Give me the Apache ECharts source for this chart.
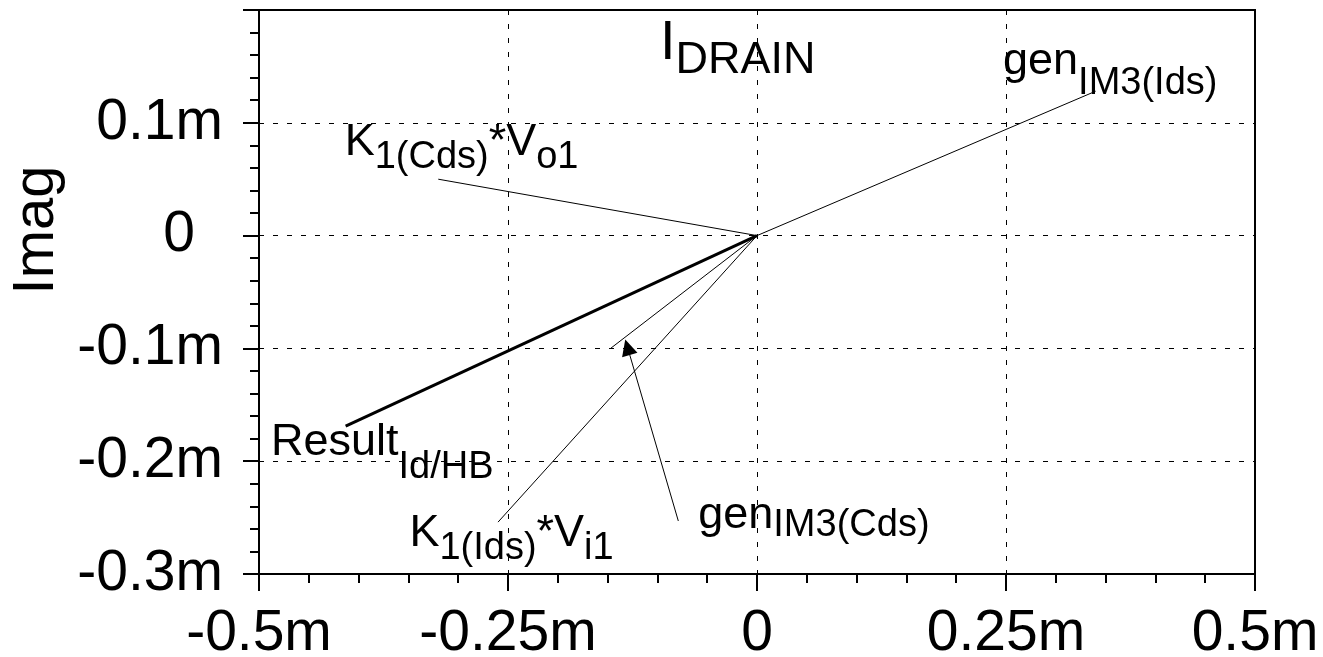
<!DOCTYPE html>
<html>
<head>
<meta charset="utf-8">
<script src="https://cdn.jsdelivr.net/npm/echarts@6/dist/echarts.min.js"></script>
<style>
html, body { margin: 0; padding: 0; background: #fff; }
#chart { width: 1323px; height: 657px; }
</style>
</head>
<body>
<div id="chart"></div>
<script>
// phasor end points (all start at the origin), values in m (milli) units
const vectorNames = ['genIM3Ids', 'K1CdsVo1', 'Result', 'K1IdsVi1', 'genIM3Cds'];
const vectorRe = [0.340, -0.320, -0.413, -0.260, -0.147];
const vectorIm = [0.128, 0.050, -0.169, -0.254, -0.100];
const vectorWidth = [1, 1, 3, 1, 1];

// arrow pointing at the gen IM3(Cds) phasor
const arrowFrom = [-0.079, -0.253];
const arrowTo = [-0.130, -0.099];

// annotation texts and their top-left anchors (data units)
const labelTexts = [
	'{m|gen}{s2|IM3(Ids)}',
	'{m|K}{s1|1(Cds)}{m|*V}{s1|o1}',
	'{m|Result}{s3|Id/HB}',
	'{m|K}{s4|1(Ids)}{m|*V}{s4|i1}',
	'{m|gen}{s5|IM3(Cds)}'
];
const labelRe = [0.247, -0.414, -0.488, -0.349, -0.059];
const labelIm = [0.174, 0.102, -0.164, -0.244, -0.228];

const X_MIN = -0.5, X_MAX = 0.5, X_STEP = 0.25;
const Y_MIN = -0.3, Y_MAX = 0.2, Y_STEP = 0.1;

const FONT = 'Liberation Sans, Arial, sans-serif';
const BLACK = '#000';

function fmtM(v) {
	v = parseFloat(v.toFixed(3));
	return v === 0 ? '0' : v + 'm';
}

function sub(pad) {
	return { fontSize: 38, lineHeight: 38, fontFamily: FONT, color: BLACK, verticalAlign: 'top', padding: [pad, 0, 0, 0] };
}

const MAIN = { fontSize: 45, lineHeight: 45, fontFamily: FONT, color: BLACK, verticalAlign: 'top' };

const chart = echarts.init(document.getElementById('chart'));

const vectorSeries = vectorNames.map((name, i) => ({
	name: name,
	type: 'line',
	data: [[0, 0], [vectorRe[i], vectorIm[i]]],
	showSymbol: false,
	symbol: 'none',
	lineStyle: { color: BLACK, width: vectorWidth[i] },
	z: 3
}));

chart.setOption({
	animation: false,
	backgroundColor: '#fff',
	title: {
		text: '{a|I}{b|DRAIN}',
		left: 660, top: 16, padding: 0,
		textStyle: {
			fontWeight: 'normal',
			rich: {
				a: { fontSize: 56, lineHeight: 56, fontFamily: FONT, fontWeight: 'normal', color: BLACK, verticalAlign: 'top' },
				b: { fontSize: 45, lineHeight: 45, fontFamily: FONT, fontWeight: 'normal', color: BLACK, verticalAlign: 'top', padding: [22, 0, 0, 0] }
			}
		}
	},
	grid: {
		left: 259, right: 68, top: 10, bottom: 83,
		outerBoundsMode: 'none',
		show: true, borderColor: BLACK, borderWidth: 2
	},
	xAxis: {
		type: 'value', min: X_MIN, max: X_MAX, interval: X_STEP,
		axisLine: { onZero: false, lineStyle: { color: BLACK, width: 2 } },
		axisTick: { length: 17, lineStyle: { color: BLACK, width: 2 } },
		minorTick: { show: true, splitNumber: 5, length: 9, lineStyle: { color: BLACK, width: 2 } },
		splitLine: { lineStyle: { color: BLACK, width: 1, type: [5, 9] } },
		axisLabel: { fontSize: 57, fontFamily: FONT, color: BLACK, margin: 32, formatter: fmtM }
	},
	yAxis: {
		type: 'value', min: Y_MIN, max: Y_MAX, interval: Y_STEP,
		name: 'Imag', nameLocation: 'middle', nameRotate: 90, nameGap: 191,
		nameTextStyle: { fontSize: 58, fontFamily: FONT, color: BLACK, padding: [0, 0, 0, 124] },
		axisLine: { onZero: false, lineStyle: { color: BLACK, width: 2 } },
		axisTick: { length: 16, lineStyle: { color: BLACK, width: 2 } },
		minorTick: { show: true, splitNumber: 5, length: 9, lineStyle: { color: BLACK, width: 2 } },
		splitLine: { lineStyle: { color: BLACK, width: 1, type: [5, 9] } },
		axisLabel: {
			fontSize: 57, fontFamily: FONT, color: BLACK, margin: 36, showMaxLabel: false,
			formatter: v => fmtM(v) === '0' ? '{z|0}' : fmtM(v),
			rich: { z: { fontSize: 57, fontFamily: FONT, color: BLACK, padding: [0, 28, 0, 0] } }
		}
	},
	series: vectorSeries.concat([
		{
			type: 'lines',
			coordinateSystem: 'cartesian2d',
			symbol: ['none', 'triangle'],
			symbolSize: [13, 16],
			lineStyle: { color: BLACK, width: 1, opacity: 1 },
			data: [{ coords: [arrowFrom, arrowTo] }],
			z: 4
		},
		{
			type: 'scatter',
			symbolSize: 0.01,
			itemStyle: { color: 'transparent', opacity: 1 },
			data: labelTexts.map((t, i) => ({ value: [labelRe[i], labelIm[i]], text: t })),
			label: {
				show: true,
				position: [0, 0],
				align: 'left',
				verticalAlign: 'top',
				color: BLACK,
				opacity: 1,
				formatter: p => p.data.text,
				rich: {
					m: MAIN,
					s1: sub(18),
					s2: sub(25),
					s3: sub(28),
					s4: sub(19),
					s5: sub(14)
				}
			},
			z: 5
		}
	])
});
</script>
</body>
</html>
